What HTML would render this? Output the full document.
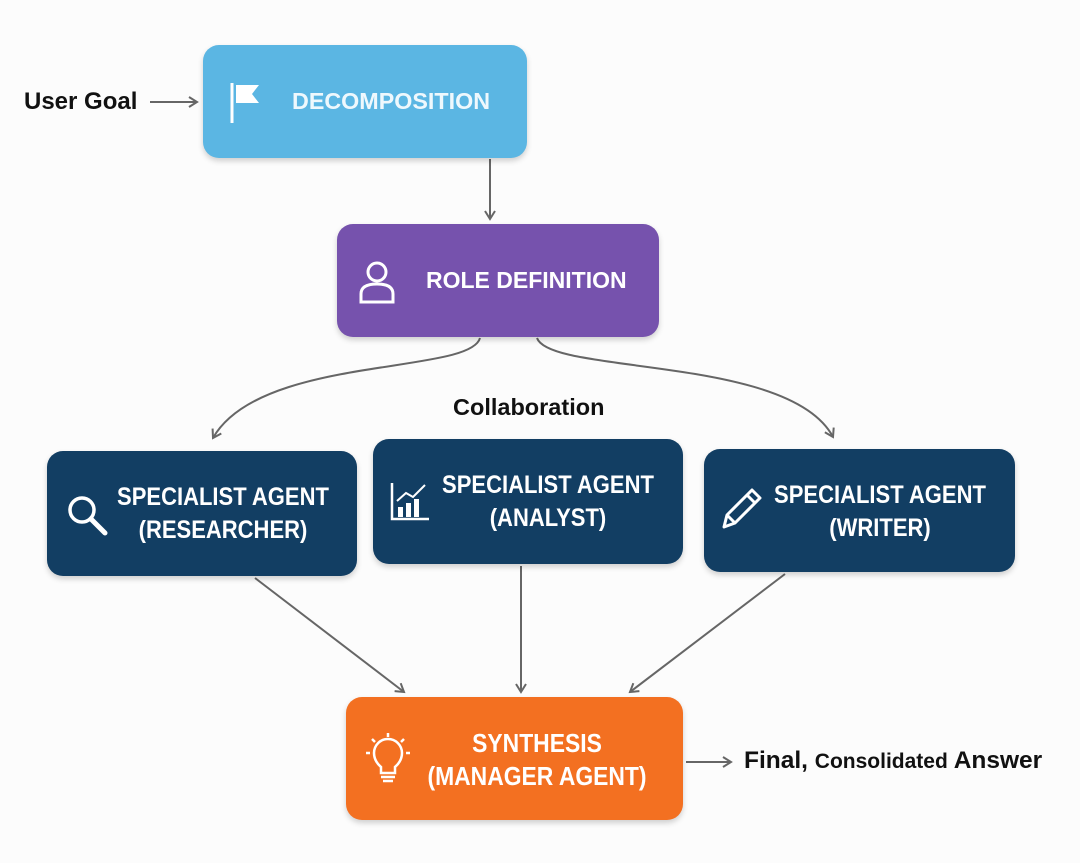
<!DOCTYPE html>
<html><head><style>
body{margin:0;width:1080px;height:863px;background:#fcfcfc;position:relative;overflow:hidden;font-family:"Liberation Sans",sans-serif}
.b{position:absolute;border-radius:16px;color:#fff;font-weight:bold;box-shadow:0 3px 6px rgba(0,0,0,.18)}
.t{position:absolute;font-weight:bold;color:#111;white-space:nowrap}
.c{position:absolute;text-align:center;font-size:25px;line-height:33px;transform:scaleX(.88);transform-origin:center center;white-space:nowrap;top:30px}
</style></head><body>
<svg width="1080" height="863" style="position:absolute;left:0;top:0">
<defs><marker id="a" markerWidth="12" markerHeight="12" refX="10" refY="6" orient="auto" markerUnits="userSpaceOnUse"><path d="M2,1 L10,6 L2,11" fill="none" stroke="#666" stroke-width="2"/></marker></defs>
<g stroke="#666" stroke-width="2" fill="none" marker-end="url(#a)">
<line x1="150" y1="102" x2="197" y2="102"/>
<line x1="490" y1="159" x2="490" y2="219"/>
<path d="M480,338 C470,375 260,355 213,438"/>
<path d="M537,338 C550,375 790,355 833,437"/>
<line x1="255" y1="578" x2="404" y2="692"/>
<line x1="521" y1="566" x2="521" y2="692"/>
<line x1="785" y1="574" x2="630" y2="692"/>
<line x1="686" y1="762" x2="731" y2="762"/>
</g>
</svg>
<div class="t" style="left:24px;top:88px;font-size:24px">User Goal</div>
<div class="b" style="left:203px;top:45px;width:324px;height:113px;background:#5bb6e3">
<svg style="position:absolute;left:24px;top:36px" width="40" height="44"><line x1="5" y1="2" x2="5" y2="42" stroke="#fff" stroke-width="3"/><path d="M9,4 H32 L25,13 L32,22 H9Z" fill="#fff"/></svg>
<div style="position:absolute;left:89px;top:43px;font-size:23.3px;color:#eef8fd">DECOMPOSITION</div></div>
<div class="b" style="left:337px;top:224px;width:322px;height:113px;background:#7652ad">
<svg style="position:absolute;left:20px;top:36px" width="40" height="44"><circle cx="20" cy="12" r="9" fill="none" stroke="#fff" stroke-width="3"/><path d="M4,42 V34 Q4,24 20,24 Q36,24 36,34 V42Z" fill="none" stroke="#fff" stroke-width="3"/></svg>
<div style="position:absolute;left:89px;top:43px;font-size:23px">ROLE DEFINITION</div></div>
<div class="t" style="left:453px;top:394px;font-size:23.5px">Collaboration</div>
<div class="b" style="left:47px;top:451px;width:310px;height:125px;background:#123e63">
<svg style="position:absolute;left:18px;top:42px" width="46" height="46"><circle cx="17" cy="17" r="12" fill="none" stroke="#fff" stroke-width="3.5"/><line x1="26" y1="26" x2="40" y2="40" stroke="#fff" stroke-width="5" stroke-linecap="round"/></svg>
<div class="c" style="left:0;width:352px">SPECIALIST AGENT<br>(RESEARCHER)</div></div>
<div class="b" style="left:373px;top:439px;width:310px;height:125px;background:#123e63">
<svg style="position:absolute;left:16px;top:42px" width="42" height="42"><path d="M3,2 V38 H40" fill="none" stroke="#fff" stroke-width="2.5"/><rect x="9" y="26" width="5" height="10" fill="#fff"/><rect x="17" y="22" width="5" height="14" fill="#fff"/><rect x="25" y="18" width="5" height="18" fill="#fff"/><path d="M8,20 L17,12 L24,16 L36,4" fill="none" stroke="#fff" stroke-width="2"/></svg>
<div class="c" style="left:0;width:350px">SPECIALIST AGENT<br>(ANALYST)</div></div>
<div class="b" style="left:704px;top:449px;width:311px;height:123px;background:#123e63">
<svg style="position:absolute;left:14px;top:36px" width="46" height="46"><path d="M6,42 L9,30 L34,5 L42,13 L17,38Z M9,30 L17,38 M29,10 L37,18" fill="none" stroke="#fff" stroke-width="3" stroke-linejoin="round"/></svg>
<div class="c" style="left:0;width:352px">SPECIALIST AGENT<br>(WRITER)</div></div>
<div class="b" style="left:346px;top:697px;width:337px;height:123px;background:#f37021">
<svg style="position:absolute;left:20px;top:36px" width="46" height="56"><g stroke="#fff" stroke-width="2.5" fill="none"><path d="M15,34 Q8,28 8,20 A14,14 0 0 1 36,20 Q36,28 29,34 V40 H15Z"/><line x1="15" y1="44" x2="29" y2="44"/><line x1="17" y1="48" x2="27" y2="48"/><line x1="22" y1="0" x2="22" y2="4"/><line x1="6" y1="6" x2="9" y2="9"/><line x1="38" y1="6" x2="35" y2="9"/><line x1="0" y1="20" x2="4" y2="20"/><line x1="40" y1="20" x2="44" y2="20"/></g></svg>
<div class="c" style="left:0;width:382px;font-size:26px">SYNTHESIS<br>(MANAGER AGENT)</div></div>
<div class="t" style="left:744px;top:747px;font-size:24.5px">Final, <span style="font-size:21px">Consolidated</span> Answer</div>
</body></html>
